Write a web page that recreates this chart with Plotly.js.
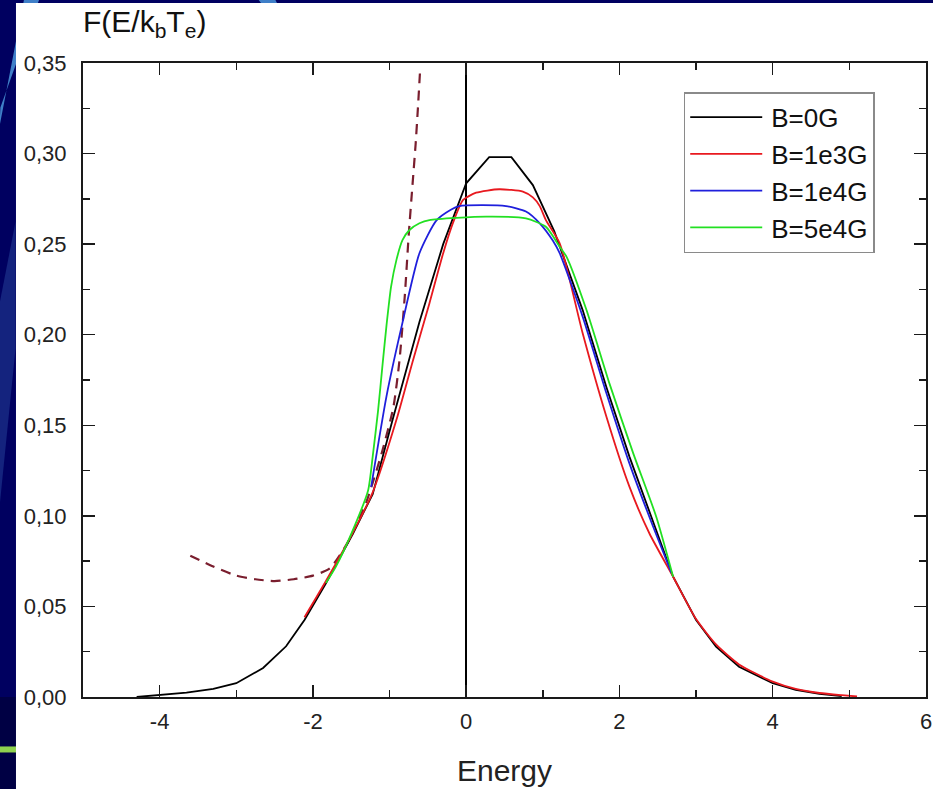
<!DOCTYPE html>
<html>
<head>
<meta charset="utf-8">
<script src="https://cdn.plot.ly/plotly-3.0.1.min.js"></script>
<style>
  html, body { margin: 0; padding: 0; background: #000060; }
  #chart { width: 933px; height: 789px; }
</style>
</head>
<body>
<div id="chart"></div>
<script>
// ---- data ----
const seriesNames = ["B=0G", "B=1e3G", "B=1e4G", "B=5e4G"];

const blackX = [-4.3, -4.0, -3.65, -3.3, -3.0, -2.65, -2.35, -2.11, -1.83, -1.48, -1.22, -0.96, -0.61, -0.3, 0.0, 0.3, 0.59, 0.87, 1.15, 1.52, 1.83, 2.13, 2.45, 2.70, 3.0, 3.26, 3.56, 4.0, 4.3, 4.61, 4.9];
const blackY = [0.0, 0.001, 0.0024, 0.0045, 0.0076, 0.016, 0.028, 0.0425, 0.0628, 0.090, 0.112, 0.153, 0.207, 0.250, 0.2836, 0.298, 0.298, 0.2826, 0.257, 0.2136, 0.171, 0.1327, 0.0955, 0.0664, 0.0425, 0.0278, 0.0167, 0.0076, 0.004, 0.0018, 0.0005];

const redX = [-2.11, -1.83, -1.5, -1.22, -0.91, -0.7, -0.48, -0.30, -0.17, -0.04, 0.13, 0.43, 0.74, 0.87, 0.96, 1.04, 1.22, 1.52, 1.83, 2.13, 2.39, 2.70, 3.0, 3.26, 3.56, 4.0, 4.3, 4.61, 4.9, 5.1];
const redY = [0.044, 0.064, 0.089, 0.113, 0.153, 0.185, 0.2173, 0.245, 0.262, 0.2744, 0.2784, 0.2803, 0.279, 0.2758, 0.271, 0.2633, 0.2505, 0.2008, 0.1547, 0.1161, 0.0904, 0.0664, 0.043, 0.029, 0.018, 0.0085, 0.0045, 0.0022, 0.001, 0.0003];

const blueX = [-1.24, -1.04, -0.84, -0.61, -0.39, -0.2, -0.09, 0.2, 0.52, 0.78, 0.96, 1.13, 1.22, 1.52, 1.83, 2.13, 2.44, 2.68];
const blueY = [0.116, 0.166, 0.205, 0.245, 0.263, 0.269, 0.271, 0.2715, 0.271, 0.268, 0.2615, 0.252, 0.245, 0.21, 0.1677, 0.129, 0.094, 0.0683];

const greenX = [-1.83, -1.7, -1.48, -1.28, -1.22, -1.15, -1.09, -1.04, -0.98, -0.91, -0.83, -0.74, -0.61, -0.48, 0.26, 0.78, 1.04, 1.22, 1.31, 1.57, 1.87, 2.18, 2.48, 2.70];
const greenY = [0.063, 0.072, 0.092, 0.114, 0.1327, 0.158, 0.184, 0.205, 0.2265, 0.2413, 0.2523, 0.2578, 0.2615, 0.2633, 0.2652, 0.2642, 0.2596, 0.2486, 0.243, 0.2136, 0.173, 0.1345, 0.0995, 0.0664];

const dashX = [-3.6, -3.3, -3.0, -2.75, -2.5, -2.25, -2.0, -1.78, -1.55, -1.3, -1.1, -0.95, -0.87, -0.80, -0.75, -0.70, -0.66, -0.63, -0.60];
const dashY = [0.078, 0.072, 0.067, 0.065, 0.064, 0.065, 0.067, 0.071, 0.085, 0.108, 0.135, 0.16, 0.186, 0.222, 0.255, 0.283, 0.305, 0.325, 0.347];

const xTickVals = [-4, -2, 0, 2, 4, 6];
const yTickVals = [0, 0.05, 0.10, 0.15, 0.20, 0.25, 0.30, 0.35];

// ---- styles ----
const colors = ["#000000", "#e8191f", "#1f1fdc", "#22e022"];
const font = "Arial, 'Liberation Sans', sans-serif";

const traces = [
  {x: dashX, y: dashY, mode: "lines", showlegend: false, hoverinfo: "skip",
   line: {color: "#7a1e2e", width: 2.2, dash: "10px,7px", shape: "spline", smoothing: 0.6}},
  {x: blackX, y: blackY, name: seriesNames[0], legendgroup: "a", mode: "lines",
   line: {color: colors[0], width: 1.8}},
  {x: redX, y: redY, name: seriesNames[1], legendgroup: "b", mode: "lines",
   line: {color: colors[1], width: 1.8, shape: "spline", smoothing: 0.6}},
  {x: blueX, y: blueY, name: seriesNames[2], legendgroup: "c", mode: "lines",
   line: {color: colors[2], width: 1.8, shape: "spline", smoothing: 0.6}},
  {x: greenX, y: greenY, name: seriesNames[3], legendgroup: "d", mode: "lines",
   line: {color: colors[3], width: 1.8, shape: "spline", smoothing: 0.6}}
];

const axisCommon = {
  showline: true, linecolor: "#1a1a1a", linewidth: 2, mirror: "ticks",
  ticks: "inside", ticklen: 12, tickwidth: 1.5, tickcolor: "#1a1a1a",
  showgrid: false, tickfont: {family: font, size: 22, color: "#222"}
};

const layout = {
  width: 933, height: 789,
  margin: {l: 83, r: 7, t: 63, b: 92},
  paper_bgcolor: "#000060",
  plot_bgcolor: "#ffffff",
  separators: ", ",
  showlegend: true,
  xaxis: Object.assign({}, axisCommon, {
    range: [-5, 6], tickvals: xTickVals, ticktext: xTickVals.map(String),
    minor: {dtick: 1, tick0: 0, ticks: "inside", ticklen: 7, tickwidth: 1.5, tickcolor: "#1a1a1a"},
    zeroline: true, zerolinecolor: "#000", zerolinewidth: 1.5,
    ticklabelstandoff: 4,
    title: {text: "Energy", font: {family: font, size: 30, color: "#222"}, standoff: 27}
  }),
  yaxis: Object.assign({}, axisCommon, {
    range: [0, 0.35], tickvals: yTickVals, tickformat: ".2f",
    minor: {dtick: 0.025, tick0: 0, ticks: "inside", ticklen: 7, tickwidth: 1.5, tickcolor: "#1a1a1a"},
    zeroline: false,
    ticklabelstandoff: 10
  }),
  legend: {
    x: 0.7126, y: 0.954, xanchor: "left", yanchor: "top",
    bgcolor: "#ffffff", bordercolor: "#8a8a8a", borderwidth: 1.5,
    font: {family: font, size: 26, color: "#111"},
    itemwidth: 76, tracegroupgap: 0, traceorder: "grouped"
  },
  annotations: [{
    xref: "paper", yref: "paper", x: -0.002, y: 1.0946, xanchor: "left", yanchor: "top",
    text: "F(E/k<sub>b</sub>T<sub>e</sub>)", showarrow: false,
    font: {family: font, size: 30, color: "#111"}
  }],
  shapes: [
    // slide decoration behind the pasted figure
    {type: "path", xref: "paper", yref: "paper", layer: "below", line: {width: 0}, fillcolor: "#3f7fc8",
     path: "M -0.070 1.10 L -0.052 1.10 L -0.098 0.93 L -0.099 0.90 Z"},
    {type: "path", xref: "paper", yref: "paper", layer: "below", line: {width: 0}, fillcolor: "#14237e",
     path: "M -0.080 0.75 L -0.080 0.55 L -0.099 0.30 L -0.099 0.62 Z"},
    {type: "path", xref: "paper", yref: "paper", layer: "below", line: {width: 0}, fillcolor: "#3f7fc8",
     path: "M 0.208 1.10 L 0.228 1.10 L 0.232 1.09 L 0.214 1.09 Z"},
    {type: "rect", xref: "paper", yref: "paper", layer: "below", line: {width: 0}, fillcolor: "#000044",
     x0: -0.099, x1: -0.079, y0: -0.15, y1: 0.0},
    {type: "rect", xref: "paper", yref: "paper", layer: "below", line: {width: 0}, fillcolor: "#8fd14f",
     x0: -0.099, x1: -0.079, y0: -0.0875, y1: -0.078},
    // white figure area
    {type: "rect", xref: "paper", yref: "paper", layer: "below", line: {width: 0}, fillcolor: "#ffffff",
     x0: -0.0795, x1: 1.02, y0: -0.2, y1: 1.0946}
  ]
};

Plotly.newPlot("chart", traces, layout, {displayModeBar: false, staticPlot: true}).then(function (gd) {
  // lengthen legend line samples to match the reference
  gd.querySelectorAll(".legend .legendlines path").forEach(function (p) {
    p.setAttribute("d", "M5,0h72");
  });
});
</script>
</body>
</html>
